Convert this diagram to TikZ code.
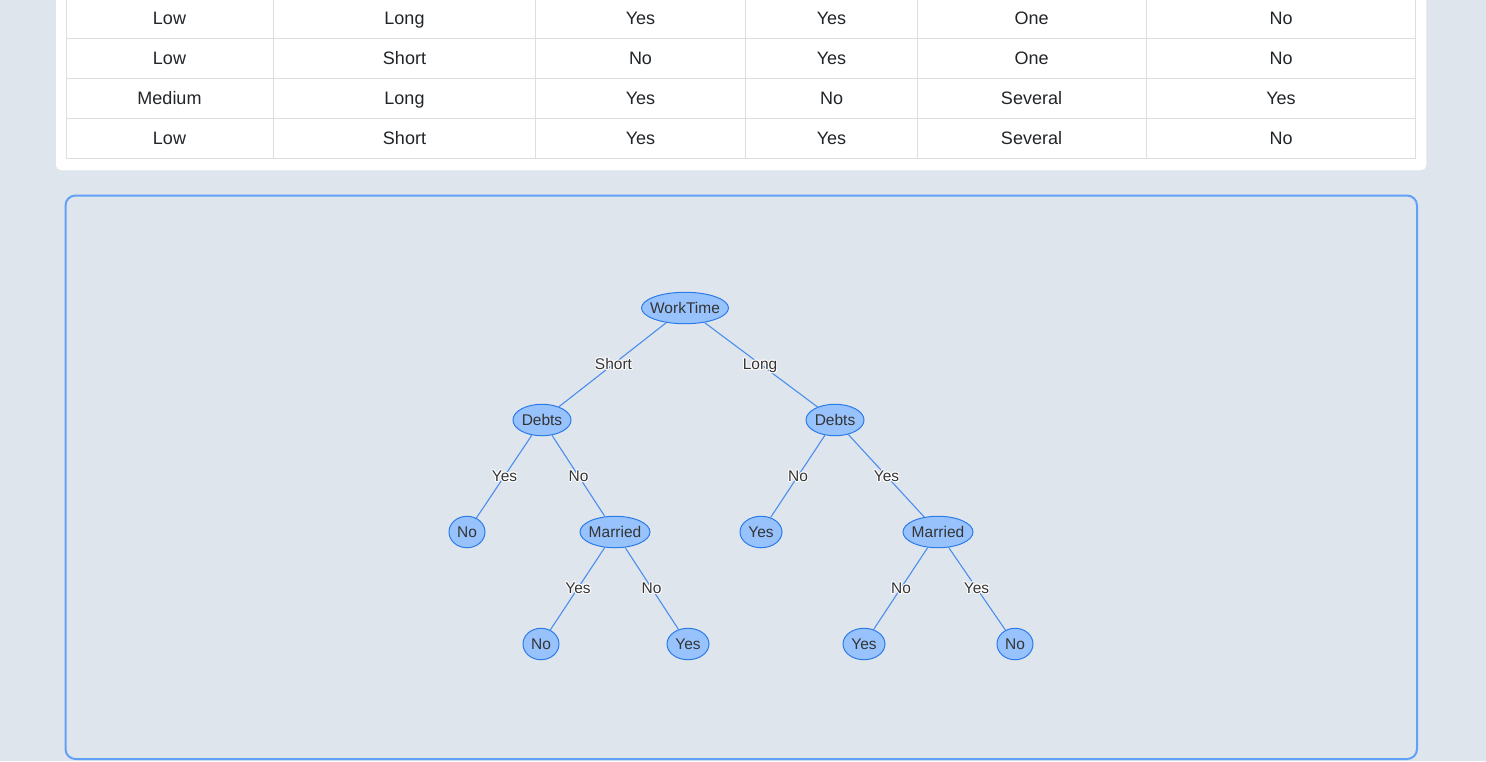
\documentclass[tikz,border=0pt]{standalone}
\usepackage{fontspec}
\setmainfont{Liberation Sans}
\usetikzlibrary{shapes.geometric,calc}

\definecolor{pagebg}{RGB}{223,229,237}
\definecolor{gridline}{RGB}{222,222,222}
\definecolor{cardline}{RGB}{214,218,224}
\definecolor{panelline}{RGB}{98,160,248}
\definecolor{nodefill}{RGB}{151,194,252}
\definecolor{nodeline}{RGB}{43,124,233}
\definecolor{edgeline}{RGB}{74,142,238}
\definecolor{treetext}{RGB}{52,52,52}
\definecolor{celltext}{RGB}{33,37,41}

% white outline around edge labels
\newcommand\halocopy[3]{\makebox[0pt][l]{\hspace*{#1}\raisebox{#2}{\color{white}#3}}}
\newcommand\halotext[1]{%
  \halocopy{-1pt}{0pt}{#1}\halocopy{1pt}{0pt}{#1}%
  \halocopy{0pt}{1pt}{#1}\halocopy{0pt}{-1pt}{#1}%
  \halocopy{-0.7pt}{0.7pt}{#1}\halocopy{0.7pt}{0.7pt}{#1}%
  \halocopy{-0.7pt}{-0.7pt}{#1}\halocopy{0.7pt}{-0.7pt}{#1}%
  #1}
% text that takes no width, so the ellipse keeps its set size
\newcommand\zw[1]{\makebox[0pt]{#1}}

\tikzset{
  cell/.style={text=celltext, font=\fontsize{18}{21}\selectfont, inner sep=0pt,
    text height=12.9pt, text depth=0pt},
  tnode/.style={ellipse, draw=nodeline, line width=1pt, fill=nodefill,
    text=treetext, font=\fontsize{15.5}{18}\selectfont, inner sep=0pt,
    text height=11.1pt, text depth=0pt,
    minimum width=#1, minimum height=31.5pt},
  edge/.style={draw=edgeline, line width=1.1pt},
  elabel/.style={text=treetext, font=\fontsize{15.5}{18}\selectfont, inner sep=0pt,
    text height=11.1pt, text depth=0pt},
}

\begin{document}
\begin{tikzpicture}[x=1pt, y=-1pt]
  \useasboundingbox (0,0) rectangle (1486,761);
  \clip (0,0) rectangle (1486,761);
  \fill[pagebg] (0,0) rectangle (1486,761);

  % data card with table
  \draw[cardline, fill=white, rounded corners=5pt] (55.5,-10) rectangle (1426.5,170.5);
  \draw[gridline, line width=1pt] (66.5,-2) rectangle (1415.5,158.5);
  \foreach \yy in {38.5,78.5,118.5}
    \draw[gridline, line width=1pt] (66.5,\yy) -- (1415.5,\yy);
  \foreach \xx in {273.5,535.5,745.5,917.5,1146.5}
    \draw[gridline, line width=1pt] (\xx,-2) -- (\xx,158.5);

  \foreach \r/\yy/\a/\b/\c/\d/\e/\f in {
      1/18/Low/Long/Yes/Yes/One/No,
      2/58/Low/Short/No/Yes/One/No,
      3/98/Medium/Long/Yes/No/Several/Yes,
      4/138/Low/Short/Yes/Yes/Several/No}{
    \node[cell] (c\r a) at (169.5,\yy) {\a};
    \node[cell] (c\r b) at (404.5,\yy) {\b};
    \node[cell] (c\r c) at (640.5,\yy) {\c};
    \node[cell] (c\r d) at (831.5,\yy) {\d};
    \node[cell] (c\r e) at (1031.5,\yy) {\e};
    \node[cell] (c\r f) at (1281,\yy) {\f};
  }

  % tree panel
  \draw[panelline, line width=2pt, rounded corners=10pt] (65.5,195.5) rectangle (1417,759);

  % tree nodes
  \node[tnode=87pt] (root) at (685,308) {\zw{WorkTime}};
  \node[tnode=58pt] (debtsL) at (542,420) {\zw{Debts}};
  \node[tnode=58pt] (debtsR) at (835,420) {\zw{Debts}};
  \node[tnode=36pt] (leafA) at (467,532) {\zw{No}};
  \node[tnode=70pt] (marL) at (615,532) {\zw{Married}};
  \node[tnode=42pt] (leafB) at (761,532) {\zw{Yes}};
  \node[tnode=70pt] (marR) at (938,532) {\zw{Married}};
  \node[tnode=36pt] (leafC) at (541,644) {\zw{No}};
  \node[tnode=42pt] (leafD) at (688,644) {\zw{Yes}};
  \node[tnode=42pt] (leafE) at (864,644) {\zw{Yes}};
  \node[tnode=36pt] (leafF) at (1015,644) {\zw{No}};

  % connectors from parent to child
  \foreach \p/\q in {root/debtsL, root/debtsR, debtsL/leafA, debtsL/marL,
      debtsR/leafB, debtsR/marR, marL/leafC, marL/leafD, marR/leafE, marR/leafF}
    \draw[edge] (\p) -- (\q);

  % connector labels
  \node[elabel] (lShort) at ($(root)!0.5!(debtsL)$) {\halotext{Short}};
  \node[elabel] (lLong) at ($(root)!0.5!(debtsR)$) {\halotext{Long}};
  \node[elabel] (lLY) at ($(debtsL)!0.5!(leafA)$) {\halotext{Yes}};
  \node[elabel] (lLN) at ($(debtsL)!0.5!(marL)$) {\halotext{No}};
  \node[elabel] (lRN) at ($(debtsR)!0.5!(leafB)$) {\halotext{No}};
  \node[elabel] (lRY) at ($(debtsR)!0.5!(marR)$) {\halotext{Yes}};
  \node[elabel] (lMLY) at ($(marL)!0.5!(leafC)$) {\halotext{Yes}};
  \node[elabel] (lMLN) at ($(marL)!0.5!(leafD)$) {\halotext{No}};
  \node[elabel] (lMRN) at ($(marR)!0.5!(leafE)$) {\halotext{No}};
  \node[elabel] (lMRY) at ($(marR)!0.5!(leafF)$) {\halotext{Yes}};
\end{tikzpicture}
\end{document}
